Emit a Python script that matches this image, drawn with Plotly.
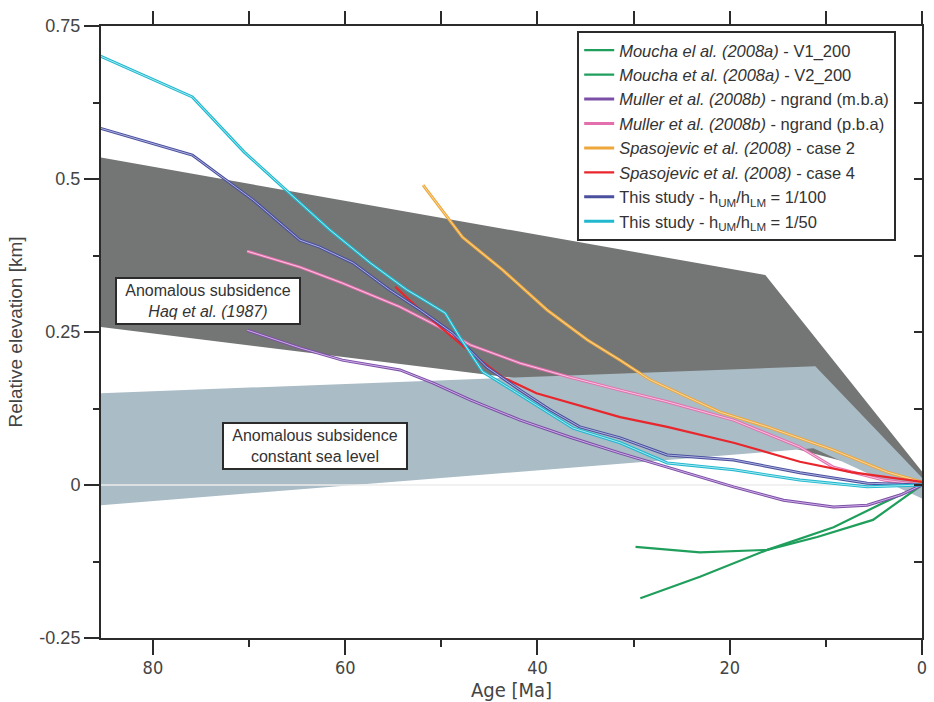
import plotly.graph_objects as go

# ---------------- data ----------------
# shaded regions
haq_age = [85.4, 16.3, 0.0, 0.0, 40.0, 85.4]
haq_elev = [0.535, 0.343, 0.022, 0.005, 0.170, 0.258]

csl_age = [85.4, 11.1, 0.0, 0.0, 11.3, 85.4]
csl_elev = [0.150, 0.194, 0.012, -0.022, 0.060, -0.033]

zero_age = [85.4, 0.0]
zero_elev = [0.0, 0.0]

# Moucha et al. (2008a)
v1_age = [29.8, 23.1, 16.1, 10.9, 5.1, 0.0]
v1_elev = [-0.101, -0.110, -0.106, -0.085, -0.057, 0.0]
v2_age = [29.3, 23.1, 16.1, 9.2, 4.0, 0.0]
v2_elev = [-0.185, -0.150, -0.106, -0.069, -0.029, 0.0]

# Muller et al. (2008b)
mba_age = [70.2, 64.7, 60.3, 54.3, 50.9, 47.0, 41.8, 36.6, 31.4, 26.5, 19.6, 14.4, 9.2, 5.7, 2.2, 0.0]
mba_elev = [0.253, 0.224, 0.204, 0.188, 0.167, 0.139, 0.106, 0.078, 0.052, 0.029, -0.003, -0.025, -0.036, -0.033, -0.016, 0.0]
pba_age = [70.2, 64.7, 60.3, 54.3, 50.2, 47.0, 41.8, 36.6, 31.4, 26.5, 19.6, 12.7, 9.2, 4.0, 0.0]
pba_elev = [0.382, 0.356, 0.330, 0.291, 0.258, 0.229, 0.199, 0.176, 0.155, 0.136, 0.106, 0.062, 0.029, 0.008, 0.0]

# Spasojevic et al. (2008)
c2_age = [51.9, 47.8, 43.6, 39.0, 34.8, 31.4, 28.3, 21.0, 16.1, 9.2, 3.6, 0.0]
c2_elev = [0.490, 0.405, 0.351, 0.286, 0.237, 0.204, 0.172, 0.119, 0.095, 0.057, 0.021, 0.005]
c4_age = [54.8, 52.2, 47.0, 43.6, 40.1, 36.6, 31.4, 26.5, 19.6, 12.7, 7.4, 0.0]
c4_elev = [0.324, 0.286, 0.217, 0.176, 0.150, 0.134, 0.111, 0.095, 0.069, 0.038, 0.021, 0.005]

# This study
s100_age = [85.5, 75.9, 72.8, 69.6, 64.7, 62.7, 59.2, 55.4, 52.2, 48.8, 45.3, 41.8, 38.7, 35.6, 31.4, 26.5, 19.6, 12.7, 5.7, 0.0]
s100_elev = [0.583, 0.539, 0.503, 0.466, 0.400, 0.389, 0.363, 0.319, 0.286, 0.248, 0.193, 0.155, 0.123, 0.095, 0.077, 0.049, 0.041, 0.020, 0.003, 0.0]
s50_age = [85.5, 75.9, 70.5, 66.1, 61.6, 57.4, 53.6, 52.2, 49.6, 48.1, 45.7, 42.6, 39.4, 36.3, 31.4, 26.5, 19.6, 12.7, 5.7, 0.0]
s50_elev = [0.701, 0.634, 0.544, 0.482, 0.417, 0.363, 0.319, 0.306, 0.281, 0.242, 0.185, 0.155, 0.123, 0.093, 0.069, 0.036, 0.025, 0.008, -0.003, 0.0]

y_tickvals = [-0.25, 0, 0.25, 0.5, 0.75]
y_ticktext = ["-0.25", "0", "0.25", "0.5", "0.75"]

series = [
    ("<i>Moucha el al. (2008a)</i> - V1_200", v1_age, v1_elev, "#1f9e5c", None),
    ("<i>Moucha et al. (2008a)</i> - V2_200", v2_age, v2_elev, "#1f9e5c", None),
    ("<i>Muller et al. (2008b)</i> - ngrand (m.b.a)", mba_age, mba_elev, "#7b4fa6", "#d9b8f0"),
    ("<i>Muller et al. (2008b)</i> - ngrand (p.b.a)", pba_age, pba_elev, "#e46fae", "#f8d0e6"),
    ("<i>Spasojevic et al. (2008)</i> - case 2", c2_age, c2_elev, "#eea73a", "#f8dcae"),
    ("<i>Spasojevic et al. (2008)</i> - case 4", c4_age, c4_elev, "#e8262c", None),
    ("This study - h<sub>UM</sub>/h<sub>LM</sub> = 1/100", s100_age, s100_elev, "#4a4f9e", "#b9bde8"),
    ("This study - h<sub>UM</sub>/h<sub>LM</sub> = 1/50", s50_age, s50_elev, "#1fb8cf", "#b5eef5"),
]

TXT = "#333333"
SANS = "Liberation Sans, Arial, Helvetica, sans-serif"
NARROW = "Liberation Sans Narrow, Arial Narrow, DejaVu Sans Condensed, Roboto Condensed, sans-serif"

fig = go.Figure()

fig.add_trace(go.Scatter(x=haq_age, y=haq_elev, fill="toself", mode="none",
                         fillcolor="#747575", hoverinfo="skip", showlegend=False))
fig.add_trace(go.Scatter(x=csl_age, y=csl_elev, fill="toself", mode="none",
                         fillcolor="#aabcc6", hoverinfo="skip", showlegend=False))
fig.add_trace(go.Scatter(x=zero_age, y=zero_elev, mode="lines",
                         line=dict(color="#ececec", width=1.5), hoverinfo="skip", showlegend=False))

for name, xa, ya, col, inner in series:
    fig.add_trace(go.Scatter(x=xa, y=ya, mode="lines", name=name,
                             line=dict(color=col, width=3 if inner else 2.2)))
    if inner:
        fig.add_trace(go.Scatter(x=xa, y=ya, mode="lines", showlegend=False,
                                 hoverinfo="skip", line=dict(color=inner, width=0.9)))

# anchor trace for the mirrored top/right axes
fig.add_trace(go.Scatter(x=[], y=[], xaxis="x2", yaxis="y2", showlegend=False, hoverinfo="skip"))

axis_line = dict(showline=True, linecolor="#2b2b2b", linewidth=2, showgrid=False,
                 zeroline=False, automargin=False)

fig.update_layout(
    width=934, height=702,
    margin=dict(l=101, r=12, t=26, b=64),
    plot_bgcolor="white", paper_bgcolor="white",
    xaxis=dict(range=[85.4, 0], tick0=0, dtick=20, ticks="outside", ticklen=15, tickwidth=1.5,
               tickcolor="#2b2b2b", ticklabelstandoff=-3,
               tickfont=dict(family=NARROW, size=18, color="#444"),
               title=dict(text="Age [Ma]", font=dict(family=NARROW, size=20, color="#444"), standoff=4),
               minor=dict(tick0=0, dtick=10, ticks="outside", ticklen=7, tickwidth=1.5, tickcolor="#2b2b2b"),
               **axis_line),
    xaxis2=dict(range=[85.4, 0], overlaying="x", side="top", anchor="y", tick0=0, dtick=10,
                ticks="outside", ticklen=13, tickwidth=1.5, tickcolor="#2b2b2b",
                showticklabels=False, **axis_line),
    yaxis=dict(range=[-0.25, 0.75], tickmode="array", tickvals=y_tickvals, ticktext=y_ticktext,
               ticks="outside", ticklen=15, tickwidth=1.5, tickcolor="#2b2b2b",
               tickfont=dict(family=SANS, size=18, color="#444"),
               title=dict(text="Relative elevation [km]", font=dict(family=SANS, size=19, color="#444"), standoff=12),
               minor=dict(tick0=0, dtick=0.125, ticks="outside", ticklen=6, tickwidth=1.5, tickcolor="#2b2b2b"),
               **axis_line),
    yaxis2=dict(range=[-0.25, 0.75], overlaying="y", side="right", anchor="x", tick0=0, dtick=0.125,
                ticks="inside", ticklen=8, tickwidth=1.5, tickcolor="#2b2b2b",
                showticklabels=False, **axis_line),
    legend=dict(x=0.58, y=0.992, xanchor="left", yanchor="top", bgcolor="white",
                bordercolor="#2b2b2b", borderwidth=2, tracegroupgap=0,
                font=dict(family=SANS, size=16.5, color=TXT)),
    annotations=[
        dict(x=74.3, y=0.300, xref="x", yref="y", showarrow=False,
             text="Anomalous subsidence<br><i>Haq et al. (1987)</i>",
             font=dict(family=SANS, size=16, color=TXT), bgcolor="white",
             bordercolor="#2b2b2b", borderwidth=2, borderpad=3, width=176),
        dict(x=63.1, y=0.0645, xref="x", yref="y", showarrow=False,
             text="Anomalous subsidence<br>constant sea level",
             font=dict(family=SANS, size=16, color=TXT), bgcolor="white",
             bordercolor="#2b2b2b", borderwidth=2, borderpad=3, width=176),
    ],
)

fig.write_html("out.html")
